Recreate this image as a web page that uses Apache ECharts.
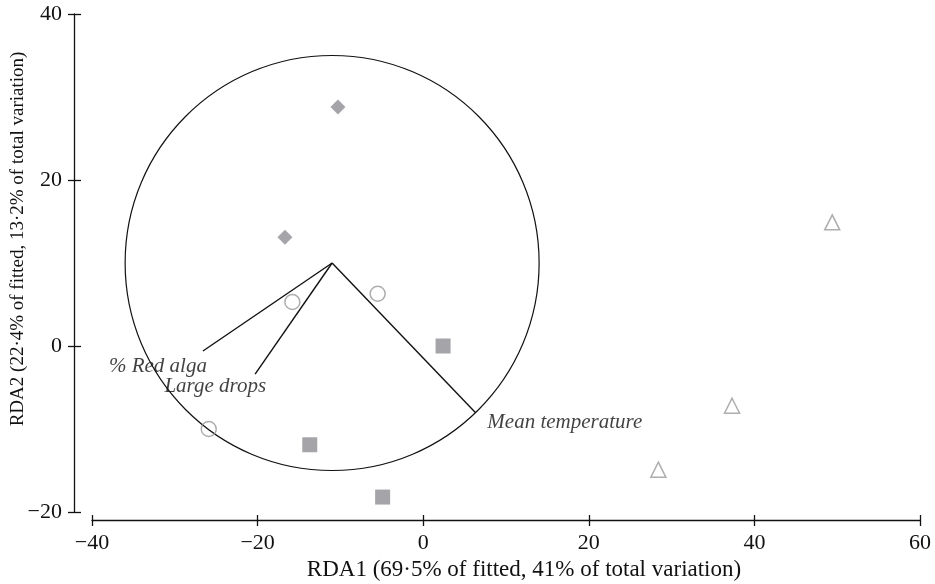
<!DOCTYPE html>
<html>
<head>
<meta charset="utf-8">
<script src="https://cdn.jsdelivr.net/npm/echarts@6/dist/echarts.min.js"></script>
<style>
  html, body { margin: 0; padding: 0; background: #fff; }
  #chart { width: 935px; height: 584px; }
</style>
</head>
<body>
<div id="chart"></div>
<script>
// RDA 排序图数据
const squareX = [2.4, -13.7, -4.9];
const squareY = [0.0, -11.9, -18.2];
const diamondX = [-10.3, -16.7];
const diamondY = [28.8, 13.1];
const circleX = [-15.8, -5.5, -25.9];
const circleY = [5.3, 6.3, -10.0];
const triangleX = [49.4, 37.3, 28.4];
const triangleY = [14.9, -7.2, -14.9];

// 环境变量向量
const vectorNames = ['% Red alga', 'Large drops', 'Mean temperature'];
const vectorX = [-26.6, -20.3, 6.3];
const vectorY = [-0.6, -3.4, -8.0];
const vectorOrigin = [-11, 10];

// 相关圆
const ringCenter = [-11, 10];
const ringRadius = 25;

const xTicks = [-40, 60, 20];
const yTicks = [-20, 40, 20];

const FONT = '"Liberation Serif", "DejaVu Serif", serif';
const INK = '#111';
const GREY = '#8e8e93';

function pairs(xs, ys) {
  return xs.map((x, i) => [x, ys[i]]);
}

function minus(v) {
  return String(v).replace('-', '\u2212');
}

const chart = echarts.init(document.getElementById('chart'), null, { renderer: 'canvas' });

// 标签相对向量端点的对齐和偏移
const labelOffsets = [
  { align: 'right', offset: [4, 16] },
  { align: 'right', offset: [11, 12] },
  { align: 'left', offset: [12, 10] }
];

const vectorSeries = vectorNames.map((name, i) => ({
  type: 'line',
  name: name,
  data: [vectorOrigin, [vectorX[i], vectorY[i]]],
  symbol: 'none',
  lineStyle: { color: INK, width: 1.4 },
  silent: true,
  z: 3
}));

const vectorLabels = {
  type: 'scatter',
  data: vectorNames.map((n, i) => ({
    value: [vectorX[i], vectorY[i]],
    name: n,
    label: { align: labelOffsets[i].align, offset: labelOffsets[i].offset }
  })),
  symbolSize: 0,
  silent: true,
  label: {
    show: true,
    position: 'inside',
    formatter: p => p.name,
    fontFamily: FONT,
    fontStyle: 'italic',
    fontSize: 21,
    color: INK,
    verticalAlign: 'middle'
  },
  z: 4
};

const tickStyle = { color: INK, width: 1.3 };

const baseX = {
  type: 'value',
  min: xTicks[0], max: xTicks[1], interval: xTicks[2],
  position: 'bottom',
  offset: 8,
  splitLine: { show: false }
};
const baseY = {
  type: 'value',
  min: yTicks[0], max: yTicks[1], interval: yTicks[2],
  position: 'left',
  offset: 18,
  splitLine: { show: false }
};

const option = {
  backgroundColor: '#fff',
  animation: false,
  grid: { left: 92, right: 15, top: 14, bottom: 72, outerBoundsMode: 'none', containLabel: false },
  xAxis: [
    {
      ...baseX,
      name: 'RDA1 (69·5% of fitted, 41% of total variation)',
      nameLocation: 'middle',
      nameGap: 38,
      nameMoveOverlap: false,
      nameTextStyle: { fontFamily: FONT, fontSize: 23, color: INK, padding: [0, 0, 0, 36] },
      axisLine: { show: true, onZero: false, lineStyle: tickStyle },
      axisTick: { show: true, inside: false, length: 6, lineStyle: tickStyle },
      axisLabel: { fontFamily: FONT, fontSize: 22, color: INK, margin: 12, formatter: minus }
    },
    {
      ...baseX,
      axisLine: { show: false, onZero: false },
      axisTick: { show: true, inside: true, length: 5, lineStyle: tickStyle },
      axisLabel: { show: false }
    }
  ],
  yAxis: [
    {
      ...baseY,
      name: 'RDA2 (22·4% of fitted, 13·2% of total variation)',
      nameLocation: 'middle',
      nameGap: 46,
      nameMoveOverlap: false,
      nameTextStyle: { fontFamily: FONT, fontSize: 19, color: INK, padding: [0, 0, 0, 48] },
      axisLine: { show: true, onZero: false, lineStyle: tickStyle },
      axisTick: { show: true, inside: false, length: 6, lineStyle: tickStyle },
      axisLabel: { fontFamily: FONT, fontSize: 22, color: INK, margin: 12, formatter: minus }
    },
    {
      ...baseY,
      axisLine: { show: false, onZero: false },
      axisTick: { show: true, inside: true, length: 7, lineStyle: tickStyle },
      axisLabel: { show: false }
    }
  ],
  series: [
    {
      type: 'custom',
      silent: true,
      data: [[ringCenter[0], ringCenter[1], ringRadius]],
      renderItem: (params, api) => {
        const c = api.coord([api.value(0), api.value(1)]);
        const s = api.size([api.value(2), api.value(2)]);
        return {
          type: 'ellipse',
          shape: { cx: c[0], cy: c[1], rx: s[0], ry: s[1] },
          style: { fill: 'none', stroke: INK, lineWidth: 1.2 }
        };
      },
      z: 2
    },
    ...vectorSeries,
    vectorLabels,
    {
      type: 'scatter',
      data: pairs(squareX, squareY),
      symbol: 'rect',
      symbolSize: 15,
      itemStyle: { color: GREY },
      z: 5
    },
    {
      type: 'scatter',
      data: pairs(diamondX, diamondY),
      symbol: 'diamond',
      symbolSize: 15,
      itemStyle: { color: GREY },
      z: 5
    },
    {
      type: 'scatter',
      data: pairs(circleX, circleY),
      symbol: 'circle',
      symbolSize: 15,
      itemStyle: { color: 'rgba(255,255,255,0)', borderColor: '#999', borderWidth: 1.5 },
      z: 5
    },
    {
      type: 'scatter',
      data: pairs(triangleX, triangleY),
      symbol: 'triangle',
      symbolSize: 15,
      itemStyle: { color: 'rgba(255,255,255,0)', borderColor: '#999', borderWidth: 1.5 },
      z: 5
    }
  ]
};

chart.setOption(option);
</script>
</body>
</html>
